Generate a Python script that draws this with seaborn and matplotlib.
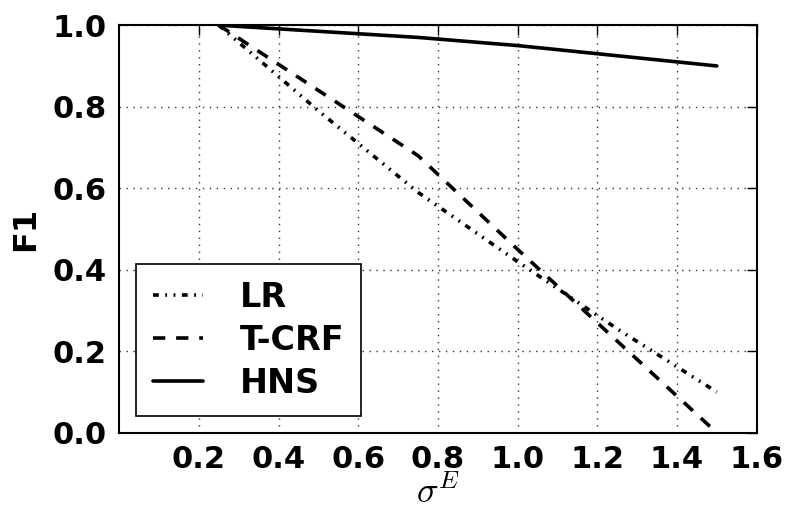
import matplotlib
matplotlib.use("Agg")
import pandas as pd
import seaborn as sns
import matplotlib.pyplot as plt

# values
sigma_e = [0.25, 0.5, 0.75, 1.0, 1.25, 1.5]
f1_lr = [1.0, 0.79, 0.59, 0.42, 0.255, 0.10]
f1_tcrf = [1.0, 0.84, 0.68, 0.45, 0.225, 0.0]
f1_hns = [1.0, 0.985, 0.97, 0.95, 0.925, 0.90]
series_names = ["LR", "T-CRF", "HNS"]
x_ticks = [0.2, 0.4, 0.6, 0.8, 1.0, 1.2, 1.4, 1.6]
y_ticks = [0.0, 0.2, 0.4, 0.6, 0.8, 1.0]

sns.set_style("white")
plt.rcParams["font.family"] = ["DejaVu Sans"]
plt.rcParams["font.weight"] = "bold"
plt.rcParams["mathtext.fontset"] = "cm"
plt.rcParams["text.color"] = "black"
plt.rcParams["axes.labelcolor"] = "black"
plt.rcParams["xtick.color"] = "black"
plt.rcParams["ytick.color"] = "black"

df = pd.DataFrame({"sigma": sigma_e, "LR": f1_lr, "T-CRF": f1_tcrf, "HNS": f1_hns})

fig = plt.figure(figsize=(7.89, 5.14), dpi=100)
ax = fig.add_axes([0.151, 0.158, 0.808, 0.793])

styles = {
    "LR": (0, (1.6, 1.8, 0.5, 1.8, 0.5, 1.8)),
    "T-CRF": (0, (3.4, 3.0)),
    "HNS": "-",
}
for name in series_names:
    sns.lineplot(data=df, x="sigma", y=name, ax=ax, color="black", lw=2.6,
                 linestyle=styles[name], label=name)

ax.set_xlim(0, 1.6)
ax.set_ylim(0, 1.0)
ax.set_xticks(x_ticks)
ax.set_yticks(y_ticks)
ax.set_xticklabels([f"{t:.1f}" for t in x_ticks])
ax.set_yticklabels([f"{t:.1f}" for t in y_ticks])
ax.tick_params(axis="both", direction="in", length=7, width=1, labelsize=22,
               top=True, right=True, pad=9, colors="black")
for lab in ax.get_xticklabels() + ax.get_yticklabels():
    lab.set_fontweight("bold")

ax.grid(True, color="#333333", linestyle=(0, (1, 4)), linewidth=1)
for sp in ax.spines.values():
    sp.set_color("black")
    sp.set_linewidth(1.5)

ax.set_xlabel(r"$\sigma^E$", fontsize=26, labelpad=0)
ax.set_ylabel("F1", fontsize=23, fontweight="bold", labelpad=8)

leg = ax.legend(loc="lower left", bbox_to_anchor=(0.027, 0.04), fontsize=24,
                frameon=True, fancybox=False, framealpha=1, handlelength=1.5,
                handletextpad=1.1, labelspacing=0.3, borderpad=0.5,
                borderaxespad=0)
leg.get_frame().set_edgecolor("black")
leg.get_frame().set_linewidth(1.2)
for t in leg.get_texts():
    t.set_fontweight("bold")
    t.set_color("black")

fig.savefig("out.png", dpi=100)
